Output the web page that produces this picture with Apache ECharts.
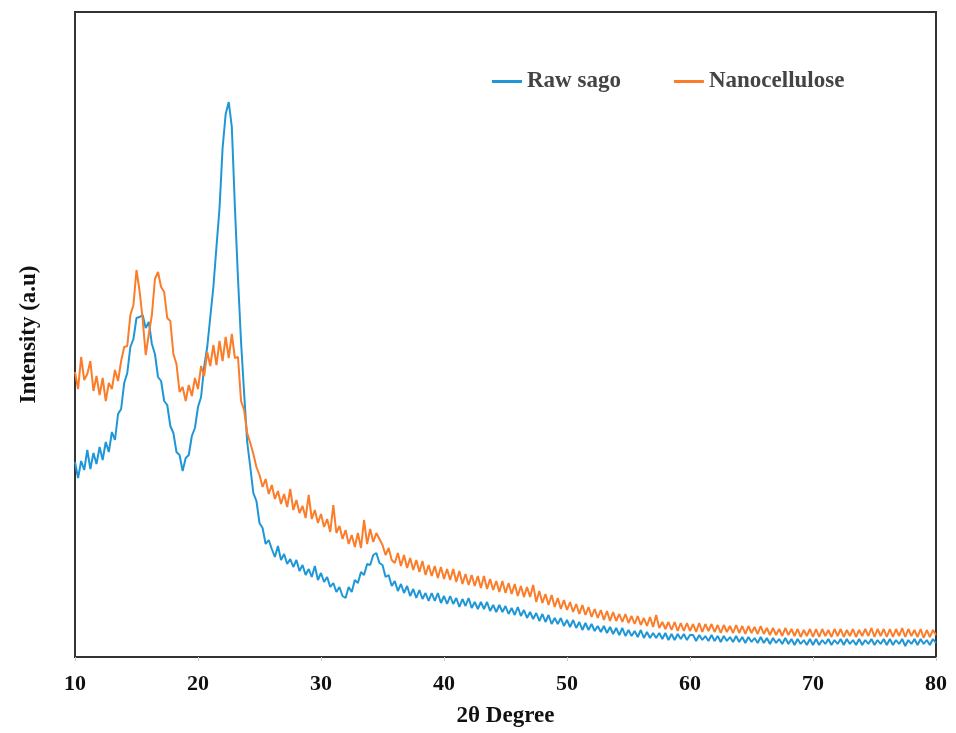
<!DOCTYPE html>
<html><head><meta charset="utf-8">
<script src="https://cdn.jsdelivr.net/npm/echarts@6/dist/echarts.min.js"></script>
<style>html,body{margin:0;padding:0;background:#fff}#c{width:956px;height:733px}</style>
</head><body><div id="c"></div>
<script>
// 2θ positions (degrees)
const degrees = [
10,10.25,10.5,10.75,11,11.25,11.5,11.75,12,12.25,12.5,12.75,13,13.25,13.5,13.75,14,14.25,14.5,14.75,
15,15.25,15.5,15.75,16,16.25,16.5,16.75,17,17.25,17.5,17.75,18,18.25,18.5,18.75,19,19.25,19.5,19.75,
20,20.25,20.5,20.75,21,21.25,21.5,21.75,22,22.25,22.5,22.75,23,23.25,23.5,23.75,24,24.25,24.5,24.75,
25,25.25,25.5,25.75,26,26.25,26.5,26.75,27,27.25,27.5,27.75,28,28.25,28.5,28.75,29,29.25,29.5,29.75,
30,30.25,30.5,30.75,31,31.25,31.5,31.75,32,32.25,32.5,32.75,33,33.25,33.5,33.75,34,34.25,34.5,34.75,
35,35.25,35.5,35.75,36,36.25,36.5,36.75,37,37.25,37.5,37.75,38,38.25,38.5,38.75,39,39.25,39.5,39.75,
40,40.25,40.5,40.75,41,41.25,41.5,41.75,42,42.25,42.5,42.75,43,43.25,43.5,43.75,44,44.25,44.5,44.75,
45,45.25,45.5,45.75,46,46.25,46.5,46.75,47,47.25,47.5,47.75,48,48.25,48.5,48.75,49,49.25,49.5,49.75,
50,50.25,50.5,50.75,51,51.25,51.5,51.75,52,52.25,52.5,52.75,53,53.25,53.5,53.75,54,54.25,54.5,54.75,
55,55.25,55.5,55.75,56,56.25,56.5,56.75,57,57.25,57.5,57.75,58,58.25,58.5,58.75,59,59.25,59.5,59.75,
60,60.25,60.5,60.75,61,61.25,61.5,61.75,62,62.25,62.5,62.75,63,63.25,63.5,63.75,64,64.25,64.5,64.75,
65,65.25,65.5,65.75,66,66.25,66.5,66.75,67,67.25,67.5,67.75,68,68.25,68.5,68.75,69,69.25,69.5,69.75,
70,70.25,70.5,70.75,71,71.25,71.5,71.75,72,72.25,72.5,72.75,73,73.25,73.5,73.75,74,74.25,74.5,74.75,
75,75.25,75.5,75.75,76,76.25,76.5,76.75,77,77.25,77.5,77.75,78,78.25,78.5,78.75,79,79.25,79.5,79.75,
80];

// Raw sago intensity (a.u.)
const rawSago = [
195,179,196,187, 207,188,204,193, 210,197,215,205, 225,217,243,248, 274,284,310,318,
339,340,342,329, 335,313,303,280, 276,256,252,231, 224,205,202,186, 199,202,221,229,
250,260,290,310, 340,370,410,449, 509,543,555,530, 450,379,315,264, 215,190,164,156,
134,129,113,117, 108,100,111,97, 103,93,98,90, 97,86,92,82, 88,80,91,77,
84,75,80,70, 74,65,70,61, 59,70,65,77, 74,85,82,93, 92,102,104,94,
92,80,82,71, 76,66,73,64, 71,61,68,59, 67,58,64,56, 64,56,64,54,
61,53,61,53, 59,50,58,51, 59,49,55,48, 55,48,55,46, 52,45,52,45,
51,43,49,42, 50,41,47,39, 45,38,44,36, 43,35,42,33, 39,33,39,31,
37,30,37,29, 35,27,34,27, 33,26,31,25, 31,24,30,23, 29,22,29,21,
27,21,26,20, 27,19,25,19, 24,19,24,18, 24,17,23,17, 23,18,23,17,
22,22,16,22, 17,21,16,22, 16,21,15,21, 16,20,15,21, 15,20,14,20,
15,19,14,20, 14,19,13,19, 14,18,13,19, 13,18,12,18, 13,17,12,18,
12,18,12,17, 13,18,12,17, 13,18,12,18, 13,17,12,18, 12,17,13,18,
12,17,13,18, 12,18,12,17, 13,18,11,17, 13,18,12,18, 13,17,12,18,
14];

// Nanocellulose intensity (a.u.)
const nanocellulose = [
285,268,300,277, 283,296,266,281, 262,279,256,274, 268,287,276,296, 310,311,342,352,
387,366,338,302, 323,342,378,385, 370,365,339,336, 303,293,265,270, 256,272,261,279,
268,291,281,305, 291,312,292,316, 296,320,299,323, 299,300,256,247, 224,214,203,190,
182,170,178,163, 172,158,166,153, 163,150,168,147, 157,144,151,139, 162,138,147,134,
143,130,138,125, 152,124,131,118, 127,113,122,110, 124,109,137,113, 128,115,124,118,
112,102,109,97, 94,104,91,102, 89,99,87,97, 85,96,82,92, 81,91,79,90,
78,88,77,88, 75,86,73,83, 72,82,71,81, 69,81,68,78, 67,76,65,76,
64,74,63,73, 61,71,60,70, 60,72,55,66, 54,63,52,62, 50,59,48,57,
47,55,45,53, 43,52,42,50, 40,48,39,47, 37,46,36,45, 36,43,35,43,
34,41,33,41, 32,39,31,40, 30,42,29,35, 28,35,27,35, 26,34,26,34,
26,33,25,34, 25,33,26,33, 25,32,24,32, 25,31,24,32, 24,31,23,31,
24,30,23,31, 23,29,22,29, 22,28,21,29, 22,28,21,28, 20,27,21,28,
20,28,20,28, 21,27,20,28, 21,28,20,27, 21,28,20,27, 21,28,21,29,
20,28,21,28, 20,28,20,28, 21,29,20,28, 21,27,20,28, 19,27,20,27,
22];

const xTicks = [10,20,30,40,50,60,70,80];
const seriesNames = ['Raw sago','Nanocellulose'];
const seriesColors = ['#1f97d6','#fb7d2a'];

const FONT = '"Liberation Serif","Times New Roman",serif';
const pairs = arr => degrees.map((d,i)=>[d, arr[i]]).filter(p=>p[1]!==undefined);

const chart = echarts.init(document.getElementById('c'), null, {renderer:'canvas'});
chart.setOption({
  animation:false,
  backgroundColor:'#fff',
  grid:{left:75,right:20,top:12,bottom:76,show:true,borderColor:'#333',borderWidth:2,backgroundColor:'transparent'},
  legend:{
    data:seriesNames, left:487, top:65, icon:'rect', itemWidth:30, itemHeight:3, itemGap:53,
    textStyle:{fontFamily:FONT,fontWeight:'bold',fontSize:23,color:'#444'}
  },
  xAxis:{
    type:'value', min:xTicks[0], max:xTicks[xTicks.length-1], interval:10,
    name:'2θ Degree', nameLocation:'middle', nameGap:48,
    nameTextStyle:{fontFamily:FONT,fontWeight:'bold',fontSize:23,color:'#111'},
    axisLine:{lineStyle:{color:'#333',width:2}},
    axisTick:{show:true,length:4,lineStyle:{color:'#ccc'}},
    axisLabel:{fontFamily:FONT,fontWeight:'bold',fontSize:22,color:'#111',margin:16},
    splitLine:{show:false}
  },
  yAxis:{
    type:'value', min:0, max:645,
    name:'Intensity (a.u)', nameLocation:'middle', nameGap:34, nameRotate:90,
    nameTextStyle:{fontFamily:FONT,fontWeight:'bold',fontSize:23,color:'#111'},
    axisLine:{show:false}, axisTick:{show:false}, axisLabel:{show:false}, splitLine:{show:false}
  },
  series:[
    {name:seriesNames[0], type:'line', data:pairs(rawSago), symbol:'none', showSymbol:false,
     lineStyle:{color:seriesColors[0],width:2}, itemStyle:{color:seriesColors[0]}},
    {name:seriesNames[1], type:'line', data:pairs(nanocellulose), symbol:'none', showSymbol:false,
     lineStyle:{color:seriesColors[1],width:2}, itemStyle:{color:seriesColors[1]}}
  ]
});
</script>
</body></html>
